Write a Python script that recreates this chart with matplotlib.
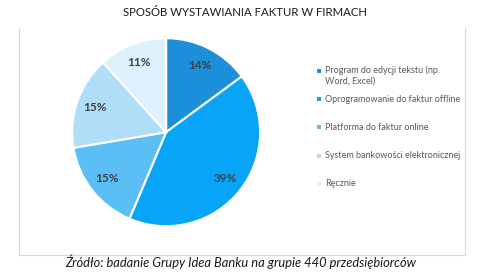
import matplotlib.pyplot as plt
from matplotlib.lines import Line2D
from matplotlib.patches import Rectangle

title = 'SPOSÓB WYSTAWIANIA FAKTUR W FIRMACH'
source = 'Źródło: badanie Grupy Idea Banku na grupie 440 przedsiębiorców'

labels = ['Program do edycji tekstu (np.\nWord, Excel)',
          'Oprogramowanie do faktur offline',
          'Platforma do faktur online',
          'System bankowości elektronicznej',
          'Ręcznie']
values = [14, 39, 15, 15, 11]
colors = ['#1c8fdb', '#08a4f8', '#5bbff6', '#b0ddf8', '#dcf1fb']

plt.rcParams['font.family'] = ['Lato', 'DejaVu Sans']

fig = plt.figure(figsize=(4.9, 2.78), dpi=100)
ax = fig.add_axes([0.145, 0.183, 0.388, 0.683])

wedges, texts, autotexts = ax.pie(
    values, colors=colors, startangle=90, counterclock=False,
    autopct=lambda p: '%d%%' % round(p * sum(values) / 100),
    pctdistance=0.8,
    wedgeprops=dict(edgecolor='white', linewidth=1.5))
for t in autotexts:
    t.set_color('#404040')
    t.set_fontsize(8.5)
    t.set_fontweight('bold')
ax.set_xlim(-1.01, 1.01)
ax.set_ylim(-1.01, 1.01)
ax.set_aspect('equal')

fig.text(0.5, 0.955, title, ha='center', va='center', fontsize=8.2, color='#1a1a1a')
fig.text(0.49, 0.058, source, ha='center', va='center', fontsize=9.3,
         style='italic', color='#1a1a1a')

# ramka wykresu
frame_color = '#d9d9d9'
fig.add_artist(Line2D([0.039, 0.039], [0.083, 0.899], color=frame_color, lw=0.8))
fig.add_artist(Line2D([0.949, 0.949], [0.083, 0.899], color=frame_color, lw=0.8))
fig.add_artist(Line2D([0.039, 0.949], [0.083, 0.083], color=frame_color, lw=0.8))

# legenda
legend_y = [71, 99, 127, 156, 184]
for lab, col, y in zip(labels, colors, legend_y):
    yf = 1 - y / 278
    fig.add_artist(Rectangle((317 / 490, yf - 2 / 278), 4 / 490, 4 / 278,
                             facecolor=col, edgecolor='none',
                             transform=fig.transFigure))
    fig.text(325 / 490, yf, lab, ha='left', va='top' if '\n' in lab else 'center',
             fontsize=6.5, color='#595959', linespacing=1.3,
             transform=fig.transFigure)
# przesunięcie wielowierszowej etykiety tak, by pierwsza linia była przy znaczniku
for t in fig.texts:
    if '\n' in t.get_text():
        t.set_y(1 - 65 / 278)

fig.savefig('out.png', dpi=100)
